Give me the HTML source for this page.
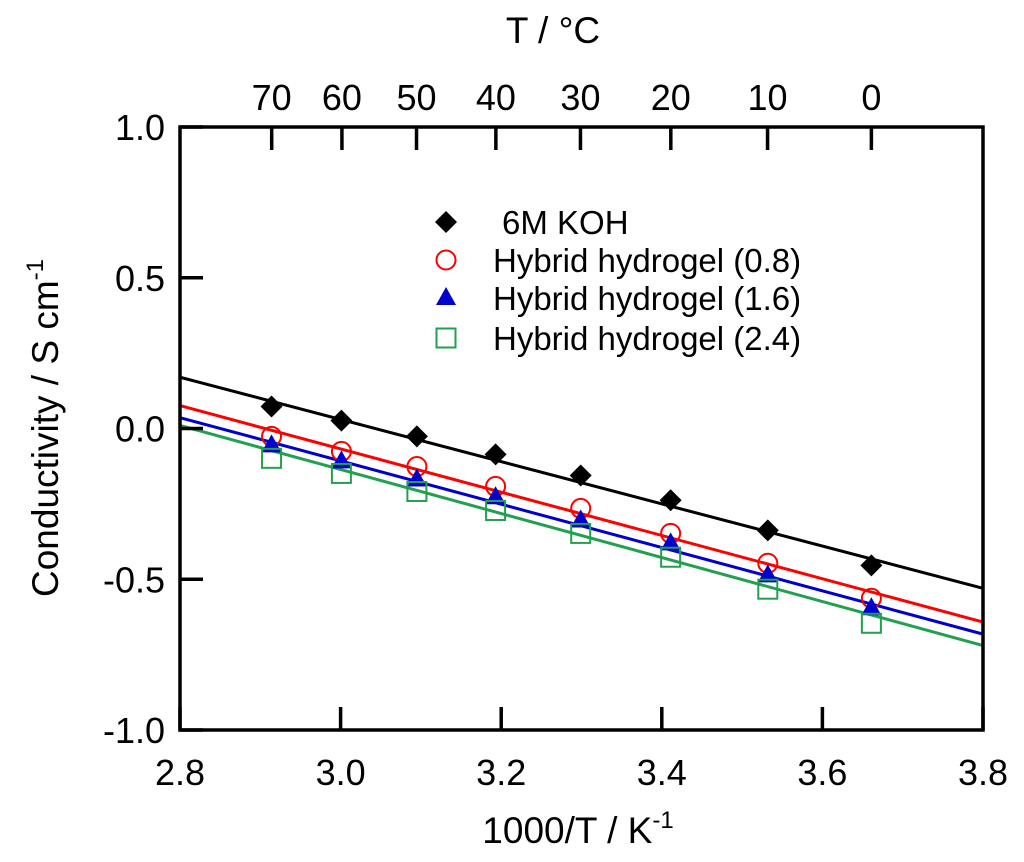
<!DOCTYPE html>
<html><head><meta charset="utf-8"><style>
html,body{margin:0;padding:0;background:#fff;}
svg{display:block;font-family:"Liberation Sans",Arial,sans-serif;}
</style></head><body>
<svg id="chart" width="1024" height="862" viewBox="0 0 1024 862"></svg>
<script>
const xInv = [2.914, 3.001, 3.095, 3.193, 3.299, 3.411, 3.532, 3.661];
const kohVals = [0.073, 0.026, -0.026, -0.086, -0.156, -0.238, -0.338, -0.454];
const h08Vals = [-0.026, -0.076, -0.126, -0.192, -0.265, -0.348, -0.447, -0.563];
const h16Vals = [-0.056, -0.109, -0.169, -0.228, -0.305, -0.381, -0.487, -0.596];
const h24Vals = [-0.099, -0.149, -0.209, -0.272, -0.348, -0.427, -0.533, -0.646];
const fitStart = [0.170, 0.076, 0.036, 0.010];
const fitEnd = [-0.530, -0.642, -0.682, -0.720];
const xTicks = [2.8, 3.0, 3.2, 3.4, 3.6, 3.8];
const yTicks = [1.0, 0.5, 0.0, -0.5, -1.0];
const topTemps = [70, 60, 50, 40, 30, 20, 10, 0];
const seriesNames = ["6M KOH", "Hybrid hydrogel (0.8)", "Hybrid hydrogel (1.6)", "Hybrid hydrogel (2.4)"];

const L=180,R=983,T=127,B=730;
const xs=v=>L+(v-2.8)/(1.0)*(R-L);
const ys=v=>T+(1.0-v)/2.0*(B-T);
const svg=document.getElementById('chart');
const NS='http://www.w3.org/2000/svg';
function mk(tag,attrs,parent){const e=document.createElementNS(NS,tag);for(const k in attrs)e.setAttribute(k,attrs[k]);(parent||svg).appendChild(e);return e;}
function txt(s,x,y,size,anchor,parent){const e=mk('text',{x:x,y:y,'font-size':size,'text-anchor':anchor||'middle',fill:'#000'},parent);e.textContent=s;return e;}

const colors=['#000','#ff0000','#0000cc','#22a050'];
const series=[kohVals,h08Vals,h16Vals,h24Vals];
const markers=['diamond','circle','triangle','square'];
function marker(type,x,y,c,g){
  let e;
  if(type==='diamond') e=mk('polygon',{points:`${x},${y-11} ${x+11},${y} ${x},${y+11} ${x-11},${y}`,fill:c},g);
  else if(type==='circle') e=mk('circle',{cx:x,cy:y,r:9.5,fill:'none',stroke:c,'stroke-width':2},g);
  else if(type==='triangle') e=mk('polygon',{points:`${x},${y-11} ${x+10},${y+7} ${x-10},${y+7}`,fill:c},g);
  else e=mk('rect',{x:x-9.5,y:y-9.5,width:19,height:19,fill:'none',stroke:c,'stroke-width':2},g);
  return e;
}

for(let i=0;i<4;i++){
  const l=mk('line',{x1:xs(2.8),y1:ys(fitStart[i]),x2:xs(3.8),y2:ys(fitEnd[i]),stroke:colors[i],'stroke-width':3});
  
  
}
for(let i=0;i<4;i++){
  const g=mk('g',{});
  
  
  series[i].forEach((v,j)=>{const m=marker(markers[i],xs(xInv[j]),ys(v),colors[i],g);
    
    });
}
const fr=mk('rect',{x:L,y:T,width:R-L,height:B-T,fill:'none',stroke:'#000','stroke-width':3.5});


const xg=mk('g',{});


xTicks.forEach(v=>{const x=xs(v);mk('line',{x1:x,y1:B,x2:x,y2:B-23,stroke:'#000','stroke-width':3.5},xg);
  const t=txt(v.toFixed(1),x,785,36,'middle',xg);
  
  });
const yg=mk('g',{});


yTicks.forEach(v=>{const y=ys(v);mk('line',{x1:L,y1:y,x2:L+23,y2:y,stroke:'#000','stroke-width':3.5},yg);
  const t=txt(v.toFixed(1),165,y+13,36,'end',yg);
  
  });
const tg=mk('g',{});


topTemps.forEach(tc=>{const x=xs(1000/(tc+273.15));mk('line',{x1:x,y1:T,x2:x,y2:T+23,stroke:'#000','stroke-width':3.5},tg);
  const t=txt(String(tc),x,110,36,'middle',tg);
  
  });
const tt=txt('T / °C',553,43,37,'middle');


const xt=mk('text',{x:578,y:843,'font-size':37,'text-anchor':'middle'});
xt.innerHTML='1000/T / K<tspan dy="-15" font-size="24">-1</tspan>';


const yt=mk('text',{x:0,y:0,'font-size':37,'text-anchor':'middle',transform:'translate(58,428) rotate(-90)'});
yt.innerHTML='Conductivity / S cm<tspan dy="-15" font-size="24">-1</tspan>';


const lg=mk('g',{});


const ly=[222,260,298,338];
for(let i=0;i<4;i++){
  const m=marker(markers[i],446,ly[i],colors[i],lg);
  
  
  const t=txt(seriesNames[i],i===0?502:493,ly[i]+12,33,'start',lg);
  
  
}
</script>
</body></html>
